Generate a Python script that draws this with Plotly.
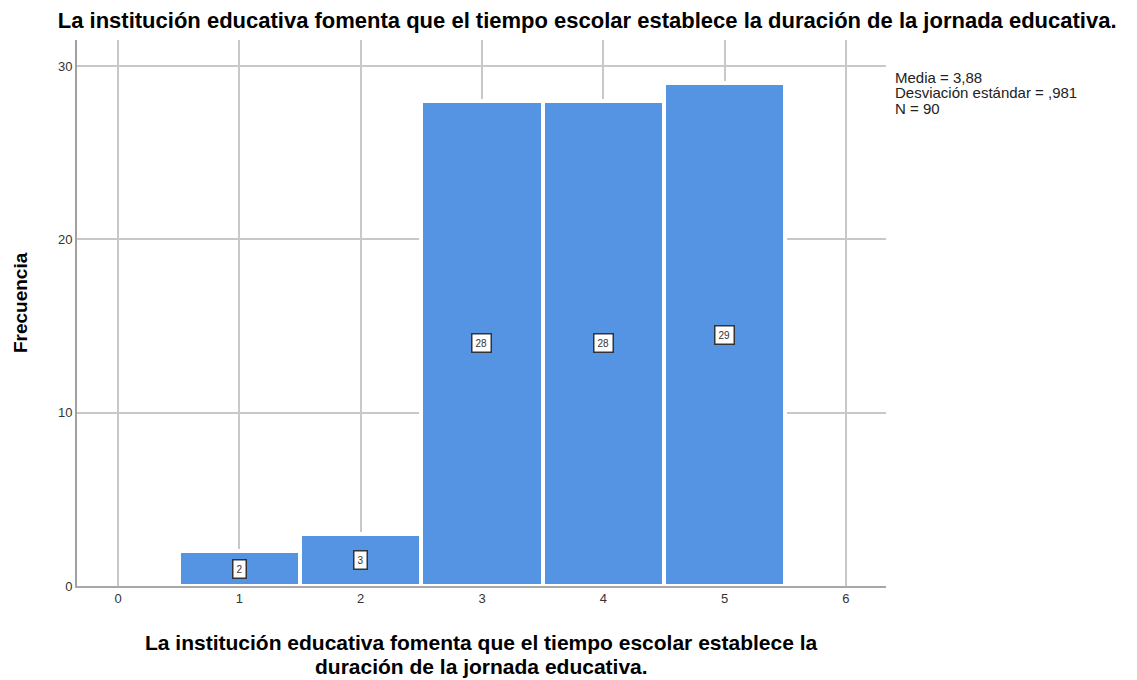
import plotly.graph_objects as go

categories = [1, 2, 3, 4, 5]
frequencies = [2, 3, 28, 28, 29]
x_ticks = [0, 1, 2, 3, 4, 5, 6]
y_ticks = [0, 10, 20, 30]
title_text = "La institución educativa fomenta que el tiempo escolar establece la duración de la jornada educativa."
x_title_lines = ["La institución educativa fomenta que el tiempo escolar establece la",
                 "duración de la jornada educativa."]
y_title = "Frecuencia"
stats_lines = ["Media = 3,88", "Desviación estándar = ,981", "N = 90"]

FONT = "Arial, Liberation Sans, sans-serif"

fig = go.Figure()
fig.add_trace(go.Bar(
    x=categories, y=frequencies, width=1,
    marker=dict(color="#5593E3", line=dict(color="white", width=4)),
    hoverinfo="x+y",
))

for c, f in zip(categories, frequencies):
    fig.add_annotation(
        x=c, y=f / 2, text=str(f), showarrow=False,
        font=dict(family=FONT, size=10, color="#333333"),
        bgcolor="white", bordercolor="#333333", borderwidth=1.5, borderpad=3,
    )

for i, line in enumerate(stats_lines):
    fig.add_annotation(
        xref="paper", yref="paper", x=1.0087, y=0.932 - i * 0.0285,
        xanchor="left", yanchor="middle",
        text=line, showarrow=False, align="left",
        font=dict(family=FONT, size=15, color="#222222"),
    )

for i, line in enumerate(x_title_lines):
    fig.add_annotation(
        xref="paper", yref="paper", x=0.5, y=-0.103 - i * 0.044,
        xanchor="center", yanchor="middle",
        text="<b>" + line + "</b>", showarrow=False,
        font=dict(family=FONT, size=21, color="black"),
    )

fig.add_annotation(
    xref="paper", yref="paper", x=-0.0705, y=0.52,
    xanchor="center", yanchor="middle", textangle=-90,
    text="<b>" + y_title + "</b>", showarrow=False,
    font=dict(family=FONT, size=19, color="black"),
)

fig.update_layout(
    width=1129, height=672,
    margin=dict(l=69, r=251, t=32, b=94),
    paper_bgcolor="white", plot_bgcolor="white",
    title=dict(text="<b>" + title_text + "</b>", x=0.513, xanchor="center", y=0.982, yanchor="middle",
               font=dict(family=FONT, size=22, color="black")),
    showlegend=False,
    bargap=0,
    xaxis=dict(
        range=[-0.338, 6.33], tickvals=x_ticks, ticktext=[str(v) for v in x_ticks],
        showgrid=True, gridcolor="#C8C8C8", gridwidth=1.5, zeroline=False,
        showline=True, linecolor="#A8A8A8", linewidth=1.5,
        ticks="", automargin=False,
        tickfont=dict(family=FONT, size=13, color="#333333"),
    ),
    yaxis=dict(
        range=[0, 31.5], tickvals=y_ticks, ticktext=[str(v) for v in y_ticks],
        showgrid=True, gridcolor="#C8C8C8", gridwidth=1.5, zeroline=False,
        showline=True, linecolor="#A0A0A0", linewidth=2,
        ticks="", automargin=False,
        tickfont=dict(family=FONT, size=13, color="#333333"),
    ),
)

fig.write_html("out.html")
